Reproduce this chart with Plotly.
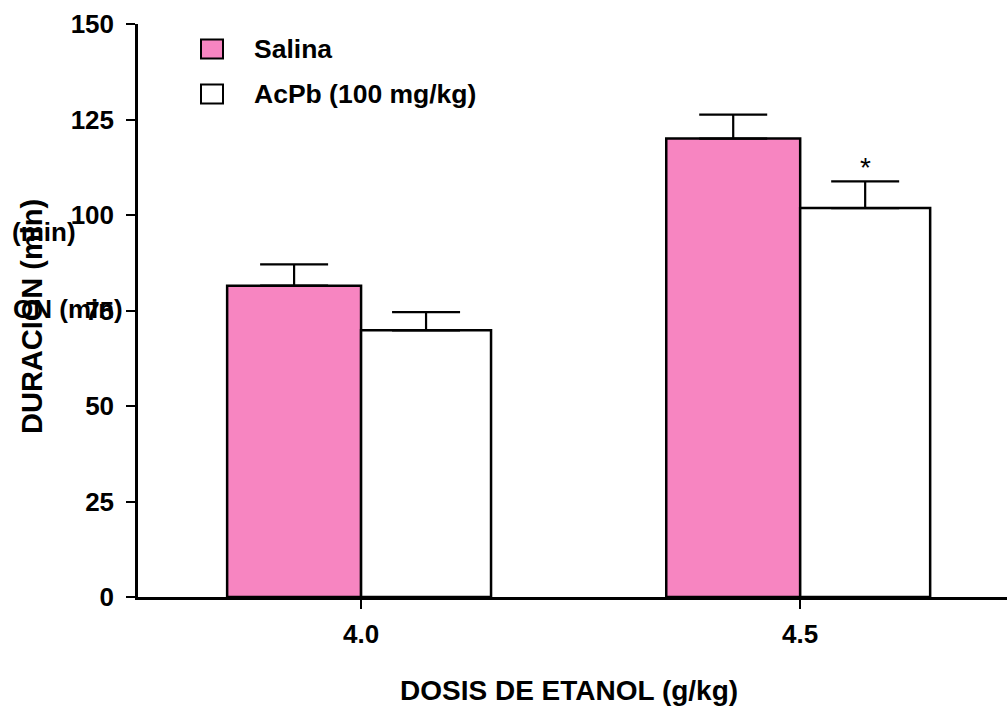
import plotly.graph_objects as go

# Ethanol dose groups (g/kg) and sleep duration (min), mean and SEM
doses = ["4.0", "4.5"]
dose_pos = [0, 1]
salina_mean = [81.5, 120.0]
salina_sem = [5.6, 6.3]
acpb_mean = [69.8, 101.8]
acpb_sem = [4.8, 7.0]
y_ticks = [0, 25, 50, 75, 100, 125, 150]

PINK = "#F785C1"
FONT = "Liberation Sans, Arial, sans-serif"

# plot area in pixels
PL, PR, PT, PB = 138, 1007, 24, 597
PW, PH = PR - PL, PB - PT


def px(x):
    return (x - PL) / PW


def py(y):
    return (PB - y) / PH


fig = go.Figure()

err_style = dict(type="data", symmetric=False, color="black",
                 thickness=2.2, width=34)

fig.add_trace(go.Bar(
    name="Salina", x=dose_pos, y=salina_mean,
    width=0.305, offset=-0.305,
    marker=dict(color=PINK, line=dict(color="black", width=2.5)),
    error_y=dict(array=salina_sem, arrayminus=[0, 0], **err_style),
))
fig.add_trace(go.Bar(
    name="AcPb (100 mg/kg)", x=dose_pos, y=acpb_mean,
    width=0.296, offset=0,
    marker=dict(color="white", line=dict(color="black", width=2.5)),
    error_y=dict(array=acpb_sem, arrayminus=[0, 0], **err_style),
))

fig.update_layout(
    width=1007, height=706,
    margin=dict(l=PL, r=1007 - PR, t=PT, b=706 - PB),
    paper_bgcolor="white", plot_bgcolor="white",
    barmode="overlay",
    showlegend=False,
    font=dict(family=FONT, size=26, color="black", weight="bold"),
)

fig.update_xaxes(
    range=[-0.508, 1.471], tickvals=dose_pos, ticktext=doses,
    showline=True, linecolor="black", linewidth=2.5,
    ticks="outside", ticklen=9, tickwidth=2, tickcolor="black",
    ticklabelstandoff=3, showgrid=False, zeroline=False,
    tickfont=dict(family=FONT, size=26, weight="bold"),
)
fig.update_yaxes(
    range=[0, 150], tickvals=y_ticks,
    showline=True, linecolor="black", linewidth=2.5,
    ticks="outside", ticklen=9, tickwidth=2, tickcolor="black",
    ticklabelstandoff=7, showgrid=False, zeroline=False,
    tickfont=dict(family=FONT, size=26, weight="bold"),
)

# significance mark over the AcPb bar at 4.5 g/kg
fig.add_annotation(
    x=dose_pos[1] + 0.148, y=acpb_mean[1] + acpb_sem[1],
    xref="x", yref="y", text="*", showarrow=False, yshift=14,
    xanchor="center", yanchor="middle",
    font=dict(family=FONT, size=28, weight="normal"),
)

# axis titles
fig.add_annotation(
    x=px(569), y=py(690), xref="paper", yref="paper",
    xanchor="center", yanchor="middle",
    text="DOSIS DE ETANOL (g/kg)", showarrow=False,
    font=dict(family=FONT, size=28, weight="bold"),
)
fig.add_annotation(
    x=px(32), y=py(317), xref="paper", yref="paper", textangle=-90,
    xanchor="center", yanchor="middle",
    text="DURACION (min)", showarrow=False,
    font=dict(family=FONT, size=29, weight="bold"),
)
fig.add_annotation(
    x=px(43.5), y=py(232), xref="paper", yref="paper",
    xanchor="center", yanchor="middle",
    text="(min)", showarrow=False,
    font=dict(family=FONT, size=26, weight="bold"),
)
fig.add_annotation(
    x=px(68), y=py(309), xref="paper", yref="paper",
    xanchor="center", yanchor="middle",
    text="ON (min)", showarrow=False,
    font=dict(family=FONT, size=26, weight="bold"),
)

# legend: swatches and labels
legend_items = [("Salina", PINK, 49), ("AcPb (100 mg/kg)", "white", 94)]
for label, color, ly in legend_items:
    fig.add_shape(
        type="rect", xref="paper", yref="paper",
        x0=px(201), x1=px(223), y0=py(ly + 9.5), y1=py(ly - 9.5),
        fillcolor=color, line=dict(color="black", width=2),
    )
    fig.add_annotation(
        x=px(252), y=py(ly), xref="paper", yref="paper",
        text=label, showarrow=False, xanchor="left", yanchor="middle",
        font=dict(family=FONT, size=26.5, weight="bold"),
    )

fig.write_html("out.html")
